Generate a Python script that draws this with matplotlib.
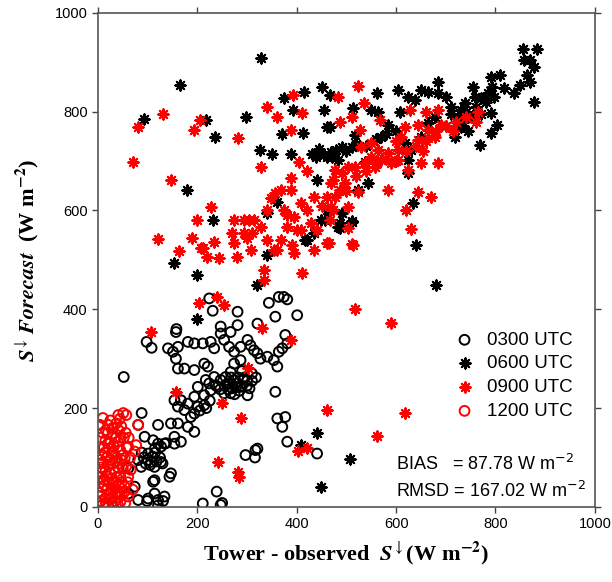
import numpy as np
import matplotlib
matplotlib.use("Agg")
import matplotlib.pyplot as plt

# (tower-observed, forecast) pairs in W m-2
utc0300 = [(224,422),(231,397),(281,395),(281,368),(344,413),(364,425),(374,425),(381,420),(357,385),(401,388),
           (321,371),(247,365),(247,351),(267,354),(157,354),(161,324),(141,321),(151,314),(181,334),(194,331),
           (211,331),(227,334),(234,321),(254,338),(264,324),(274,314),(287,324),(301,338),(307,327),(314,317),
           (321,311),(327,300),(341,304),(354,297),(377,348),(364,314),(371,321),(381,331),(361,284),(287,297),
           (274,290),(267,273),(257,263),(221,284),(214,290),(234,263),(194,277),(174,280),(161,280),(157,300),
           (201,243),(217,257),(224,250),(237,246),(247,257),(261,250),(274,257),(287,243),(301,226),(267,230),
           (254,230),(241,243),(227,236),(214,226),(194,223),(181,209),(167,216),(154,216),(161,203),(174,196),
           (187,182),(194,189),(201,203),(214,206),(147,169),(161,169),(181,162),(194,152),(154,142),(134,128),
           (121,128),(111,135),(127,122),(154,128),(167,132),(94,142),(101,108),(81,95),(87,81),(107,91),
           (127,91),(114,81),(147,68),(114,54),(114,27),(101,17),(121,14),(74,41),(61,27),(81,14),
           (211,7),(239,31),(297,105),(321,118),(357,233),(361,179),(377,182),(371,162),(381,132),(441,108),
           (317,115),(316,100),(247,4),(99,12),(121,3),(131,12),(250,8),(52,263),(98,334),(108,322),
           (88,190),(158,360),(81,166),(121,166),(137,129),(115,119),(270,240),(280,250),(290,245),(300,255),
           (285,235),(295,262),(305,240),(275,228),(310,270),(290,275),(262,238),(92,100),(100,95),(110,102),
           (118,92),(125,100),(105,85),(96,88),(130,88),(88,110),(115,110),(205,195),(218,200),(225,215),
           (61,78),(111,51),(134,21),(144,61),(255,245),(265,250),(278,242),(292,258),(300,245),(310,255),
           (318,262),(282,262),(268,262),(246,238)]

utc0600 = [(328,909),(166,854),(92,785),(218,783),(298,789),(236,749),(180,642),(326,723),(350,714),(388,714),
           (374,828),(414,840),(392,803),(370,755),(412,757),(450,850),(454,803),(460,769),(438,708),(460,708),
           (480,722),(340,595),(232,581),(154,494),(200,470),(320,449),(340,510),(360,617),(420,540),(448,581),
           (460,601),(488,575),(440,662),(884,927),(856,927),(858,905),(870,905),(878,891),(864,874),(870,860),
           (850,854),(878,820),(838,838),(818,848),(810,874),(790,870),(794,850),(798,830),(784,838),(790,797),
           (804,773),(790,757),(768,733),(754,850),(758,830),(770,828),(738,818),(730,803),(744,789),(724,789),
           (730,769),(718,749),(710,810),(684,860),(684,838),(700,830),(664,840),(650,844),(638,824),(624,830),
           (604,844),(562,838),(514,808),(550,803),(564,799),(608,799),(468,834),(468,769),(584,773),(570,749),
           (518,753),(512,729),(492,729),(472,708),(484,702),(538,698),(544,656),(524,642),(630,722),(624,702),
           (624,676),(634,615),(492,595),(512,577),(484,567),(640,530),(680,449),(664,777),(678,789),(650,749),
           (618,737),(200,381),(440,150),(448,40),(408,125),(508,97),(457,581),(487,564),(511,578),(491,594),
           (434,554),(417,540),(430,715),(445,725),(455,712),(470,718),(500,720),(520,735),(540,730),(560,745),
           (580,755),(600,760),(740,800),(750,790),(760,810),(770,795),(735,780),(720,770),(710,795),(780,820),
           (700,770),(745,760)]

utc0900 = [(70,698),(80,769),(130,795),(148,662),(194,763),(206,783),(282,747),(340,810),(392,834),(410,797),
           (360,789),(388,763),(328,688),(404,698),(420,680),(388,666),(484,830),(488,779),(228,607),(200,581),
           (120,542),(190,544),(234,536),(164,518),(208,524),(220,506),(244,504),(274,581),(294,581),(314,581),
           (270,555),(294,555),(274,534),(280,506),(308,520),(328,567),(340,540),(354,520),(334,480),(334,459),
           (368,540),(394,514),(410,474),(368,642),(388,642),(348,625),(340,601),(374,601),(394,587),(408,615),
           (434,627),(428,575),(460,627),(474,601),(460,534),(434,520),(488,642),(474,662),(380,567),(408,561),
           (524,852),(536,818),(512,789),(528,763),(568,783),(628,803),(660,799),(684,803),(764,799),(714,761),
           (690,773),(664,763),(644,773),(618,769),(610,749),(644,743),(664,747),(678,749),(604,722),(584,716),
           (564,722),(550,737),(530,729),(550,708),(570,702),(590,696),(604,702),(558,688),(538,696),(518,688),
           (504,688),(492,676),(478,682),(498,656),(470,656),(478,627),(470,607),(504,607),(524,638),(584,642),
           (624,682),(650,696),(684,696),(644,638),(670,627),(620,601),(630,563),(504,565),(512,532),(464,534),
           (468,581),(106,354),(204,413),(240,425),(254,409),(330,362),(388,338),(302,281),(158,233),(250,211),
           (288,180),(242,91),(282,71),(284,61),(402,113),(420,119),(460,196),(518,401),(590,372),(618,190),
           (562,144),(514,530),(211,524),(304,581),(311,554),(357,635),(400,560),(420,600),(440,560),(300,545),
           (360,520),(390,530),(450,610),(500,640),(520,670),(540,680),(560,700),(580,705),(600,700),(620,720),
           (640,730),(660,740),(680,760),(700,770),(720,780),(740,790),(760,780),(655,720),(600,740),(380,590)]

utc1200 = [(2,166),(4,166),(21,166),(41,186),(51,190),(57,186),(37,169),(47,163),(81,166),(77,125),
           (61,122),(74,112),(54,99),(57,82),(61,61),(54,41),(61,21),(41,28),(10,150),(20,150),
           (30,148),(15,135),(25,130),(35,140),(40,132),(12,120),(22,118),(32,122),(45,115),(8,105),
           (18,100),(28,108),(38,100),(48,95),(10,90),(20,85),(30,88),(40,80),(50,78),(15,72),
           (25,68),(35,70),(45,62),(5,60),(12,55),(22,50),(32,52),(42,45),(8,40),(18,35),
           (28,38),(38,30),(48,28),(5,22),(15,18),(25,15),(35,12),(45,10),(3,8),(10,5),
           (20,3),(30,2),(40,5),(55,8),(2,30),(6,80),(30,160),(25,175),(44,178),(16,155),
           (52,140),(58,120),(65,100),(60,50),(70,35),(35,25),(5,140),(14,110),(24,95),(34,92),
           (44,88),(8,70),(18,62),(28,58),(38,60),(48,50),(3,48),(13,44),(23,25),(33,40),
           (43,20),(53,30),(6,12),(16,8),(26,28),(36,48),(46,140),(56,150),(20,128),(30,112),
           (10,180),(50,105),(42,155),(5,95),(62,140),(66,75)]

series_labels = ['0300 UTC', '0600 UTC', '0900 UTC', '1200 UTC']
bias_text = 'BIAS   = 87.78 W m$^{-2}$'
rmsd_text = 'RMSD = 167.02 W m$^{-2}$'
ticks = [0, 200, 400, 600, 800, 1000]

plt.rcParams['font.family'] = ['Liberation Sans', 'DejaVu Sans']

fig = plt.figure(figsize=(6.12, 5.82), dpi=100)
ax = fig.add_axes([0.160, 0.129, 0.812, 0.849])

star = (8, 2, 0)
a = np.array(utc0300).T
ax.scatter(a[0], a[1], s=50, facecolors='none', edgecolors='black', linewidths=1.4,
           marker='o', label=series_labels[0])
a = np.array(utc0600).T
ax.scatter(a[0], a[1], s=55, c='black', linewidths=1.5, marker=star, label=series_labels[1])
a = np.array(utc0900).T
ax.scatter(a[0], a[1], s=55, c='red', linewidths=1.5, marker=star, label=series_labels[2])
a = np.array(utc1200).T
ax.scatter(a[0], a[1], s=50, facecolors='none', edgecolors='red', linewidths=1.4,
           marker='o', label=series_labels[3])

ax.set_xlim(0, 1000)
ax.set_ylim(0, 1000)
ax.set_xticks(ticks)
ax.set_yticks(ticks)
ax.tick_params(direction='out', length=4, width=1, labelsize=10.5, top=True, right=True,
               colors='#444444', labelcolor='black')
for sp in ax.spines.values():
    sp.set_color('#555555')
    sp.set_linewidth(1.2)

ax.set_xlabel(r'Tower - observed  $\mathbfit{S}^{\downarrow}$(W m$^{\mathbf{-2}}$)', fontsize=16,
              family='Liberation Serif', fontweight='bold', math_fontfamily='stix', labelpad=6)
ax.set_ylabel(r'$\mathbfit{S}^{\downarrow}\,\mathbfit{Forecast}$  (W m$^{\mathbf{-2}}$)', fontsize=16,
              family='Liberation Serif', fontweight='bold', math_fontfamily='stix', labelpad=10)

ax.legend(loc='upper left', bbox_to_anchor=(0.70, 0.37), frameon=False, fontsize=13.5,
          handletextpad=0.6, labelspacing=0.35, borderaxespad=0, handlelength=1.2)

ax.text(0.60, 0.087, bias_text, transform=ax.transAxes, fontsize=13, va='center',
        math_fontfamily='dejavusans')
ax.text(0.60, 0.032, rmsd_text, transform=ax.transAxes, fontsize=13, va='center',
        math_fontfamily='dejavusans')

fig.savefig('out.png', dpi=100)
